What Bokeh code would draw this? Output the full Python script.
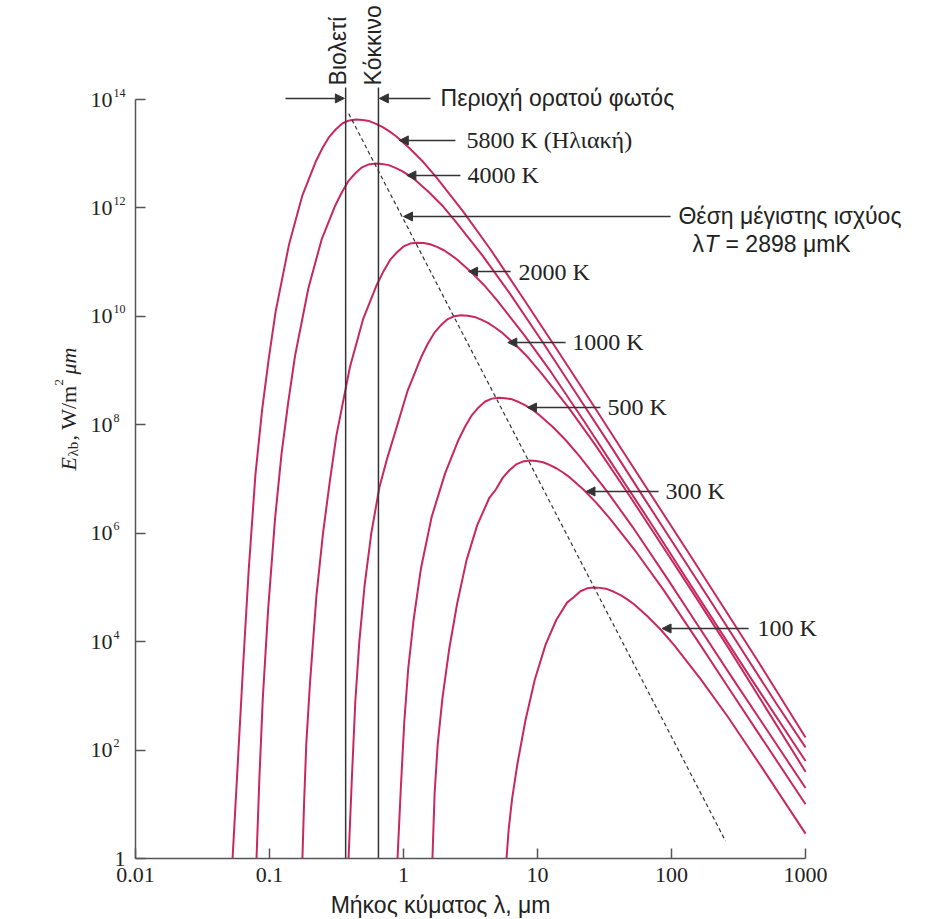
import math
from bokeh.plotting import figure
from bokeh.models import FixedTicker, CustomJSTickFormatter, Label, Arrow, NormalHead
from bokeh.embed import file_html
from bokeh.resources import INLINE
from bokeh.core.properties import value

# ---------------- data ----------------
lam_5800 = [0.053, 0.0582, 0.0638, 0.070, 0.0785, 0.0881, 0.0989, 0.111, 0.140, 0.176, 0.221, 0.248,
            0.279, 0.313, 0.351, 0.394, 0.442, 0.495, 0.556, 0.624, 0.700, 0.785, 0.881, 1.11, 1.40,
            1.76, 2.79, 4.42, 7.85, 14.0, 24.8, 44.2, 140, 442, 1000]
E_5800 = [1, 68, 4.3e3, 2.15e5, 1.2e7, 1.91e8, 1.71e9, 1.21e10, 2.15e11, 1.71e12, 7.11e12, 1.26e13,
          2.05e13, 2.83e13, 3.65e13, 4.12e13, 4.29e13, 4.21e13, 4.0e13, 3.56e13, 3.10e13, 2.58e13,
          2.10e13, 1.26e13, 7.11e12, 3.65e12, 8.55e11, 1.77e11, 2.12e10, 2.43e9, 2.77e8, 3.01e7,
          3.68e5, 4.35e3, 170]

lam_4000 = [0.080, 0.0841, 0.0891, 0.0977, 0.110, 0.123, 0.138, 0.155, 0.195, 0.245, 0.309, 0.347,
            0.389, 0.437, 0.490, 0.550, 0.617, 0.692, 0.776, 0.871, 0.977, 1.096, 1.23, 1.55, 1.95,
            2.45, 3.89, 6.17, 11.0, 19.5, 34.7, 61.7, 195, 617, 1000]
E_4000 = [1, 31.6, 891, 3.98e4, 1.86e6, 2.95e7, 2.63e8, 1.86e9, 3.31e10, 2.63e11, 1.10e12, 1.95e12,
          3.16e12, 4.37e12, 5.62e12, 6.35e12, 6.61e12, 6.49e12, 6.17e12, 5.50e12, 4.79e12, 3.98e12,
          3.24e12, 1.95e12, 1.10e12, 5.62e11, 1.32e11, 2.72e10, 3.27e9, 3.74e8, 4.27e7, 4.63e6,
          5.68e4, 670, 112]

lam_2000 = [0.176, 0.181, 0.188, 0.200, 0.224, 0.251, 0.282, 0.316, 0.398, 0.501, 0.631, 0.708, 0.794,
            0.891, 1.00, 1.122, 1.26, 1.413, 1.58, 1.778, 2.00, 2.239, 2.51, 3.16, 3.98, 5.01, 7.94,
            12.6, 22.4, 39.8, 70.8, 126, 398, 1000]
E_2000 = [1, 10, 126, 1.58e3, 7.08e4, 1.02e6, 9.12e6, 6.46e7, 1.15e9, 9.12e9, 3.80e10, 6.76e10,
          1.10e11, 1.51e11, 1.95e11, 2.20e11, 2.29e11, 2.25e11, 2.14e11, 1.91e11, 1.66e11, 1.38e11,
          1.12e11, 6.76e10, 3.80e10, 1.95e10, 4.57e9, 9.44e8, 1.14e8, 1.30e7, 1.48e6, 1.61e5,
          1.97e3, 63]

lam_1000 = [0.389, 0.412, 0.437, 0.468, 0.513, 0.575, 0.661, 0.759, 0.851, 1.07, 1.35, 1.514, 1.70,
            1.905, 2.14, 2.399, 2.69, 3.020, 3.39, 3.802, 4.27, 4.786, 5.37, 6.76, 8.51, 10.7, 17.0,
            26.9, 47.9, 85.1, 151, 269, 1000]
E_1000 = [1, 31.6, 794, 1.0e4, 1.12e5, 1.0e6, 7.08e6, 2.51e7, 6.31e7, 4.17e8, 1.74e9, 3.09e9, 5.01e9,
          6.92e9, 8.91e9, 1.01e10, 1.05e10, 1.03e10, 9.77e9, 8.71e9, 7.59e9, 6.31e9, 5.13e9, 3.09e9,
          1.74e9, 8.91e8, 2.09e8, 4.32e7, 5.19e6, 5.93e5, 6.76e4, 7.35e3, 40]

lam_500 = [0.902, 0.955, 1.012, 1.084, 1.189, 1.349, 1.622, 2.04, 2.57, 2.884, 3.24, 3.631, 4.07,
           4.571, 5.13, 5.754, 6.46, 7.244, 8.13, 9.120, 10.2, 12.9, 16.2, 20.4, 32.4, 51.3, 91.2,
           162, 288, 1000]
E_500 = [1, 20, 316, 3.16e3, 2.51e4, 2.24e5, 2.0e6, 1.26e7, 5.25e7, 9.33e7, 1.51e8, 2.09e8, 2.69e8,
         3.04e8, 3.16e8, 3.10e8, 2.95e8, 2.63e8, 2.29e8, 1.91e8, 1.55e8, 9.33e7, 5.25e7, 2.69e7,
         6.31e6, 1.30e6, 1.57e5, 1.79e4, 2.04e3, 20]

lam_300 = [1.644, 1.706, 1.799, 1.95, 2.188, 2.512, 2.951, 3.548, 4.365, 4.898, 5.495, 6.166, 6.92,
           7.762, 8.71, 9.772, 11.0, 12.30, 13.8, 15.49, 17.4, 21.9, 27.5, 34.7, 55.0, 87.1, 155,
           275, 1000]
E_300 = [1, 15.8, 126, 891, 7.08e3, 5.01e4, 3.16e5, 1.41e6, 4.47e6, 6.46e6, 1.05e7, 1.45e7, 1.86e7,
         2.10e7, 2.19e7, 2.15e7, 2.04e7, 1.82e7, 1.58e7, 1.32e7, 1.07e7, 6.46e6, 3.63e6, 1.86e6,
         4.37e5, 9.02e4, 1.08e4, 1.24e3, 10]

lam_100 = [5.87, 6.10, 6.46, 7.08, 8.13, 9.55, 11.5, 13.8, 16.6, 18.62, 20.9, 23.44, 26.3, 29.51,
           33.1, 37.15, 41.7, 46.77, 52.5, 66.1, 83.2, 105, 166, 263, 468, 1000]
E_100 = [1, 3.55, 12.6, 56, 355, 2.0e3, 8.91e3, 2.51e4, 5.25e4, 6.61e4, 8.51e4, 9.62e4, 1.0e5, 9.82e4,
         9.33e4, 8.32e4, 7.24e4, 6.03e4, 4.90e4, 2.95e4, 1.66e4, 8.51e3, 2.0e3, 412, 49.5, 2.88]

# Wien displacement line (λT = 2898 μmK)
lam_wien = [0.39, 253]
E_wien = [5.5e13, 2.1]

# visible band limits (μm)
lam_violet = 0.37
lam_red = 0.65

x_ticks = [0.01, 0.1, 1, 10, 100, 1000]
y_ticks = [1, 1e2, 1e4, 1e6, 1e8, 1e10, 1e12, 1e14]
y_tick_base = ["1", "10", "10", "10", "10", "10", "10", "10"]
y_tick_exp = ["", "2", "4", "6", "8", "10", "12", "14"]

curve_labels = ["5800 K (Ηλιακή)", "4000 K", "2000 K", "1000 K", "500 K", "300 K", "100 K"]

# ---------------- figure ----------------
CURVE = "#c8285f"
INK = "#333333"
TXT = "#222222"
SERIF = "Liberation Serif"
SANS = "Liberation Sans"

p = figure(width=935, height=919, x_axis_type="log", y_axis_type="log",
           x_range=(9.83e-4, 9.33e3), y_range=(0.075, 6.71e15),
           output_backend="svg", toolbar_location=None, min_border=0)
p.grid.visible = False
p.outline_line_color = None
p.background_fill_color = "white"
p.border_fill_color = "white"

for ax in (p.xaxis[0], p.yaxis[0]):
    ax.axis_line_color = "#555555"
    ax.axis_line_width = 1.5
    ax.major_tick_line_color = "#555555"
    ax.major_tick_line_width = 1.5
    ax.major_tick_in = 10
    ax.major_tick_out = 0
    ax.minor_tick_line_color = None
    ax.major_label_text_font = SERIF
    ax.major_label_text_font_size = "22px"
    ax.major_label_text_color = TXT

p.xaxis.ticker = FixedTicker(ticks=x_ticks)
p.yaxis.ticker = FixedTicker(ticks=y_ticks)
p.xaxis.bounds = (x_ticks[0], x_ticks[-1])
p.yaxis.bounds = (y_ticks[0], y_ticks[-1])
p.xaxis.fixed_location = y_ticks[0]
p.yaxis.fixed_location = x_ticks[0]
p.xaxis.major_label_standoff = 9
p.xaxis.formatter = CustomJSTickFormatter(code="return tick.toString();")
p.yaxis.formatter = CustomJSTickFormatter(code="return '';")

# y tick labels: "10" with raised exponent
p.text(x=[x_ticks[0]] * len(y_ticks), y=y_ticks, text=y_tick_base,
       x_offset=[-10 if t == "1" else -23 for t in y_tick_base],
       text_align="right", text_baseline="alphabetic", text_font=value(SERIF),
       text_font_size="22px", text_color=TXT)
p.text(x=[x_ticks[0]] * (len(y_ticks) - 1), y=y_ticks[1:], text=y_tick_exp[1:],
       x_offset=-22, y_offset=-7, text_align="left", text_baseline="alphabetic",
       text_font=value(SERIF), text_font_size="12px", text_color=TXT)

curves = [(lam_5800, E_5800), (lam_4000, E_4000), (lam_2000, E_2000), (lam_1000, E_1000),
          (lam_500, E_500), (lam_300, E_300), (lam_100, E_100)]
for lam, E in curves:
    p.line(lam, E, line_color=CURVE, line_width=2, line_join="round")

p.line(lam_wien, E_wien, line_color=INK, line_width=1.2, line_dash="4 3")

# visible band boundaries
p.segment(x0=[lam_violet, lam_red], y0=[1, 1], x1=[lam_violet, lam_red], y1=[1.67e14, 1.67e14],
          line_color=INK, line_width=1.5)


def arrow(x0, x1, y):
    p.add_layout(Arrow(x_start=x0, y_start=y, x_end=x1, y_end=y, line_color=INK, line_width=1.5,
                       end=NormalHead(size=9, fill_color=INK, line_color=INK)))


def label(x, y, text, font=SERIF, size="24px", **kw):
    opts = dict(text_baseline="middle", text_align="left")
    opts.update(kw)
    p.add_layout(Label(x=x, y=y, text=text, text_font=font, text_font_size=size,
                       text_color=TXT, **opts))


# curve labels + arrows
label_pos = [(2.95, 1.76e13), (3.0, 3.98e12), (7.2, 6.7e10), (18.2, 3.3e9), (33.3, 2.09e8),
             (90.2, 5.89e6), (438, 1.75e4)]
arrow_pos = [(2.44, 0.93), (2.66, 1.06), (6.29, 3.06), (16.2, 6.0), (29.5, 8.41), (80, 23), (376, 85)]
for txt, (lx, ly), (a0, a1) in zip(curve_labels, label_pos, arrow_pos):
    label(lx, ly, txt)
    arrow(a0, a1, ly)

# Wien annotation
label(112.7, 6.96e11, "Θέση μέγιστης ισχύος", font=SANS, size="23px")
label(143.5, 2.21e11, "λ", font=SANS, size="23px")
label(143.5, 2.21e11, "T", font=SANS, size="23px", text_font_style="italic", x_offset=12)
label(143.5, 2.21e11, "= 2898 μmK", font=SANS, size="23px", x_offset=33)
arrow(98.4, 1.0, 6.96e11)

# visible-light annotation
arrow(0.1315, 0.362, 1.05e14)
arrow(1.59, 0.66, 1.05e14)
label(1.89, 1.05e14, "Περιοχή ορατού φωτός", font=SANS, size="23px")
label(0.327, 1.82e14, "Βιολετί", font=SANS, size="23px", angle=math.pi / 2)
label(0.588, 1.82e14, "Κόκκινο", font=SANS, size="23px", angle=math.pi / 2)

# axis titles
label(1.89, 0.136, "Μήκος κύματος λ, μm", font=SANS, size="23px", text_align="center")

yx, yy = 0.00316, 1.44e7
ypieces = [("E", "22px", "italic", 0, 0), ("λb", "15px", "normal", 5, 14),
           (", W/m", "22px", "normal", 0, 30), ("2", "13px", "normal", -9, 85),
           ("μm", "22px", "italic", 0, 96)]
for txt, sz, st, xo, yo in ypieces:
    p.add_layout(Label(x=yx, y=yy, text=txt, text_font=SERIF, text_font_size=sz, text_font_style=st,
                       text_color=TXT, angle=math.pi / 2, text_align="left",
                       text_baseline="alphabetic", x_offset=xo, y_offset=yo))

open("out.html", "w").write(file_html(p, INLINE))
